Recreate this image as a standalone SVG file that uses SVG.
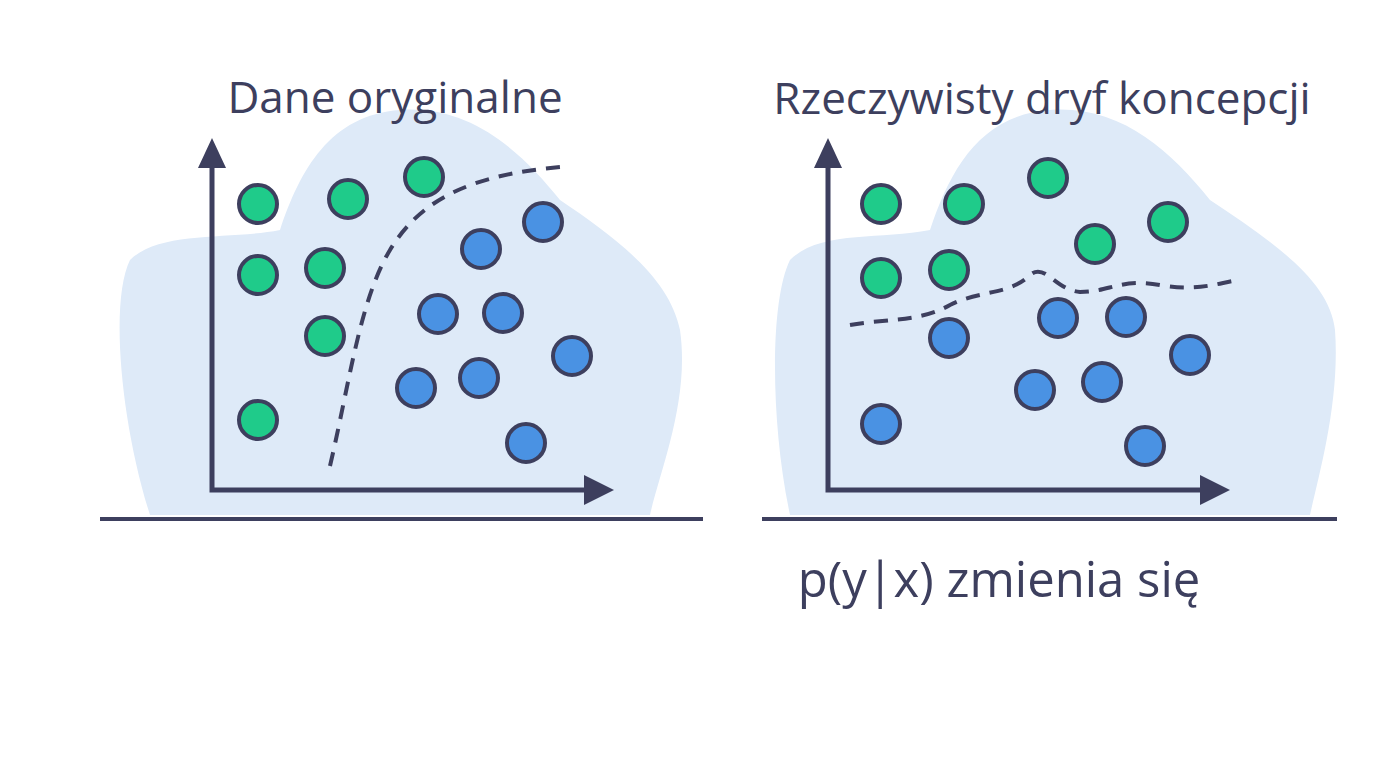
<svg xmlns="http://www.w3.org/2000/svg" width="1374" height="768" viewBox="0 0 1374 768">
<style>
.blob{fill:#deeaf8}
.ax{stroke:#3d3f5e;stroke-width:5;fill:none}
.base{stroke:#3d3f5e;stroke-width:4}
.g{fill:#1fcb8a;stroke:#3d3f5e;stroke-width:4}
.b{fill:#4a92e3;stroke:#3d3f5e;stroke-width:4}
.d{stroke:#3d3f5e;stroke-width:4;fill:none;stroke-dasharray:14 10}
text{font-family:"Open Sans","Liberation Sans",sans-serif;fill:#3d3f5e;text-anchor:middle}
.ah{fill:#3d3f5e}
</style>
<rect width="1374" height="768" fill="#fff"/>
<g id="left">
<path class="blob" d="M150,515 C120,420 110,300 130,260 C160,230 230,240 280,230 C300,170 330,115 400,110 C470,105 520,150 560,200 C620,240 670,280 680,330 C690,400 660,470 650,515 Z"/>
<line class="base" x1="100" y1="519" x2="703" y2="519"/>
<path class="ax" d="M212,160 V490 H590"/>
<polygon class="ah" points="212,138 198,168 226,168"/>
<polygon class="ah" points="614,490 584,475 584,505"/>
<path class="d" d="M330,466 C350,380 360,300 390,250 C420,200 470,175 560,167"/>
<g id="lp"><circle class="g" cx="258" cy="204" r="19"/><circle class="g" cx="348" cy="199" r="19"/><circle class="g" cx="424" cy="177" r="19"/><circle class="g" cx="258" cy="275" r="19"/><circle class="g" cx="325" cy="268" r="19"/><circle class="g" cx="325" cy="336" r="19"/><circle class="g" cx="258" cy="420" r="19"/>
<circle class="b" cx="543" cy="222" r="19"/><circle class="b" cx="481" cy="249" r="19"/><circle class="b" cx="438" cy="314" r="19"/><circle class="b" cx="503" cy="313" r="19"/><circle class="b" cx="572" cy="356" r="19"/><circle class="b" cx="416" cy="388" r="19"/><circle class="b" cx="479" cy="378" r="19"/><circle class="b" cx="526" cy="443" r="19"/></g>
<text x="395" y="113" font-size="44">Dane oryginalne</text>
</g>
<g id="right">
<path class="blob" d="M790,515 C770,420 770,300 790,260 C820,230 880,240 930,230 C950,170 980,115 1050,110 C1120,105 1170,150 1210,200 C1270,240 1330,280 1335,330 C1340,400 1320,470 1310,515 Z"/>
<line class="base" x1="762" y1="519" x2="1337" y2="519"/>
<path class="ax" d="M828,160 V490 H1206"/>
<polygon class="ah" points="828,138 814,168 842,168"/>
<polygon class="ah" points="1230,490 1200,475 1200,505"/>
<path class="d" d="M850,325 C890,318 920,322 950,305 C980,290 1010,295 1030,275 C1045,262 1055,290 1080,292 C1110,292 1120,278 1160,285 C1200,292 1220,282 1240,280"/>
<g id="rp"><circle class="g" cx="881" cy="204" r="19"/><circle class="g" cx="964" cy="204" r="19"/><circle class="g" cx="1048" cy="178" r="19"/><circle class="g" cx="1168" cy="222" r="19"/><circle class="g" cx="1095" cy="244" r="19"/><circle class="g" cx="881" cy="278" r="19"/><circle class="g" cx="949" cy="270" r="19"/>
<circle class="b" cx="949" cy="338" r="19"/><circle class="b" cx="1058" cy="318" r="19"/><circle class="b" cx="1126" cy="317" r="19"/><circle class="b" cx="1190" cy="355" r="19"/><circle class="b" cx="1035" cy="390" r="19"/><circle class="b" cx="1102" cy="382" r="19"/><circle class="b" cx="881" cy="424" r="19"/><circle class="b" cx="1145" cy="446" r="19"/></g>
<text x="1042" y="114" font-size="44">Rzeczywisty dryf koncepcji</text>
<text x="999" y="597" font-size="49">p(y|x) zmienia się</text>
</g>
</svg>
